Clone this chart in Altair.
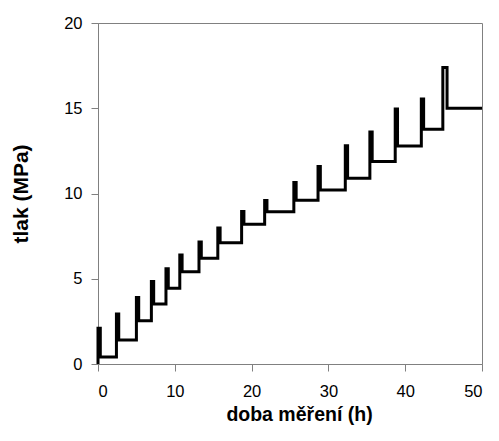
import altair as alt
import pandas as pd

# step times (h), peak pressures and settled levels (MPa)
step_times = [0, 2.4, 5.0, 6.95, 8.85, 10.65, 13.15, 15.6, 18.7, 21.7, 25.5, 28.65, 32.2, 35.4, 38.7, 42.1, 44.9]
peak_press = [2.1, 2.93, 3.9, 4.84, 5.58, 6.4, 7.16, 7.98, 8.94, 9.59, 10.65, 11.58, 12.8, 13.6, 14.96, 15.54, 17.39]
level_press = [0.41, 1.41, 2.54, 3.52, 4.44, 5.41, 6.2, 7.11, 8.19, 8.93, 9.6, 10.2, 10.89, 11.87, 12.79, 13.77, 15.0]
drop_delay = [0.3] * 16 + [0.55]
end_time = 50
start_press = 0
x_ticks = [0, 10, 20, 30, 40, 50]
y_ticks = [0, 5, 10, 15, 20]

rows = []
prev = start_press
for t, p, lv, d in zip(step_times, peak_press, level_press, drop_delay):
    rows.append((t, prev))
    rows.append((t, p))
    rows.append((t + d, p))
    rows.append((t + d, lv))
    prev = lv
rows.append((end_time, prev))
df = pd.DataFrame(rows, columns=["t", "p"])
df["i"] = range(len(df))

font = "Liberation Sans"
chart = (
    alt.Chart(df)
    .mark_line(color="black", strokeWidth=3, strokeJoin="miter", strokeMiterLimit=2)
    .encode(
        x=alt.X("t:Q", scale=alt.Scale(domain=[0, 50], nice=False),
                axis=alt.Axis(values=x_ticks, title="doba měření (h)", titlePadding=6,
                              labelPadding=12, titleFontSize=19.5, titleX=201)),
        y=alt.Y("p:Q", scale=alt.Scale(domain=[0, 20], nice=False),
                axis=alt.Axis(values=y_ticks, title="tlak (MPa)", titlePadding=32,
                              labelPadding=9, titleFontSize=21)),
        order="i:Q",
    )
    .properties(width=384, height=341, background="white",
                autosize=alt.AutoSizeParams(type="none"),
                padding={"left": 90, "top": 15, "right": 9, "bottom": 66})
    .configure_view(stroke="#808080", strokeWidth=1)
    .configure_axis(
        grid=False, domainColor="#808080", tickColor="#808080", tickSize=7,
        labelFont=font, labelFontSize=16.5, labelColor="black",
        titleFont=font, titleFontWeight="bold", titleColor="black",
    )
)
chart.save("out.html", embed_options={"renderer": "svg", "actions": False})
